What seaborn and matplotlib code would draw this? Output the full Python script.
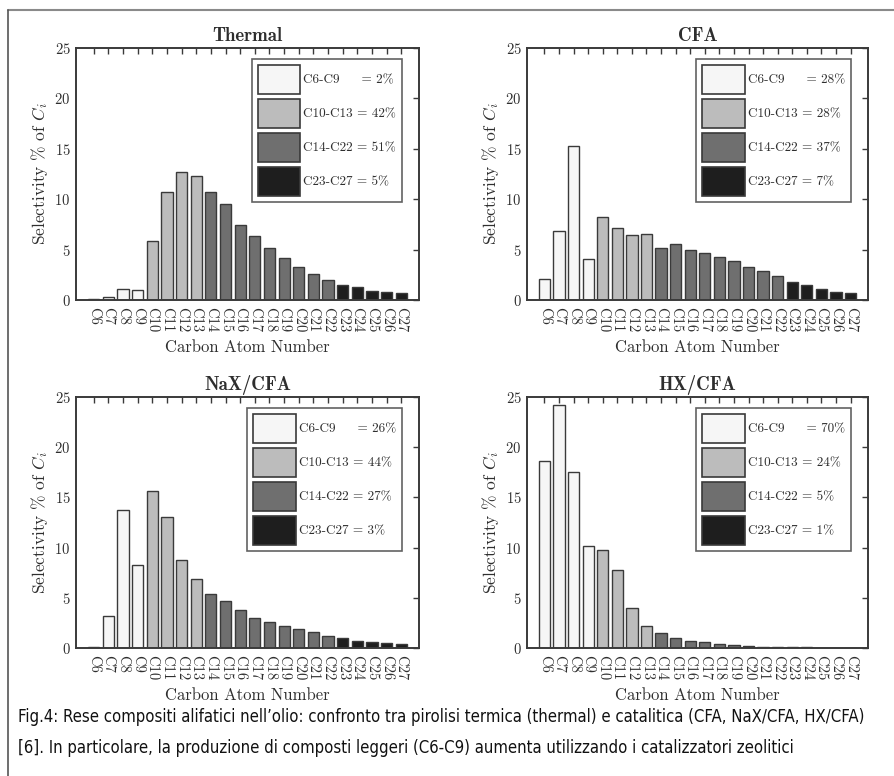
import matplotlib
matplotlib.use("Agg")
import matplotlib.pyplot as plt
import seaborn as sns
import pandas as pd
from matplotlib.patches import Patch
from matplotlib.lines import Line2D

# ---------------- data ----------------
carbons = [f"C{i}" for i in range(6, 28)]
groups = ["C6-C9", "C10-C13", "C14-C22", "C23-C27"]
group_of = (["C6-C9"] * 4) + (["C10-C13"] * 4) + (["C14-C22"] * 9) + (["C23-C27"] * 5)

thermal = [0.12, 0.3, 1.1, 1.0, 5.86, 10.76, 12.65, 12.3, 10.76, 9.5, 7.48, 6.3,
           5.13, 4.17, 3.28, 2.58, 1.95, 1.52, 1.26, 0.86, 0.76, 0.66]
cfa = [2.05, 6.89, 15.23, 4.07, 8.21, 7.19, 6.49, 6.59, 5.13, 5.56, 4.97, 4.64,
       4.24, 3.87, 3.28, 2.91, 2.42, 1.82, 1.52, 1.06, 0.83, 0.66]
nax = [0.08, 3.19, 13.78, 8.3, 15.6, 13.05, 8.8, 6.87, 5.41, 4.65, 3.78, 3.02,
       2.62, 2.22, 1.86, 1.56, 1.2, 1.0, 0.7, 0.6, 0.5, 0.4]
hx = [18.63, 24.24, 17.56, 10.16, 9.79, 7.8, 3.98, 2.16, 1.53, 1.0, 0.7, 0.6,
      0.43, 0.33, 0.23, 0.13, 0.1, 0.07, 0.05, 0.03, 0.03, 0.03]

titles = ["Thermal", "CFA", "NaX/CFA", "HX/CFA"]
series = [thermal, cfa, nax, hx]
percents = [["2%", "42%", "51%", "5%"],
            ["28%", "28%", "37%", "7%"],
            ["26%", "44%", "27%", "3%"],
            ["70%", "24%", "5%", "1%"]]

caption1 = ("Fig.4: Rese compositi alifatici nell\u2019olio: confronto tra pirolisi termica "
            "(thermal) e catalitica (CFA, NaX/CFA, HX/CFA)")
caption2 = ("[6]. In particolare, la produzione di composti leggeri (C6-C9) aumenta "
            "utilizzando i catalizzatori zeolitici")

# ---------------- style ----------------
sns.set_style("white")
plt.rcParams["font.family"] = ["cmr10", "DejaVu Serif"]
plt.rcParams["mathtext.fontset"] = "cm"
plt.rcParams["axes.formatter.use_mathtext"] = True

colors = ["#f6f6f6", "#bcbcbc", "#6f6f6f", "#1e1e1e"]
palette = dict(zip(groups, colors))
edge = "#3a3a3a"
txt = "#2e2e2e"

W, H = 895, 776
fig = plt.figure(figsize=(W / 100, H / 100), dpi=100)

boxes = [(76, 48, 419, 300), (527, 48, 868, 300),
         (76, 397, 419, 648), (527, 397, 868, 648)]

LFS = 9.5
for (l, t, r, b), title, vals, pcts in zip(boxes, titles, series, percents):
    ax = fig.add_axes([l / W, 1 - b / H, (r - l) / W, (b - t) / H])
    df = pd.DataFrame({"carbon": carbons, "value": vals, "group": group_of})
    sns.barplot(data=df, x="carbon", y="value", hue="group", hue_order=groups,
                palette=palette, dodge=False, width=0.77, saturation=1,
                edgecolor=edge, linewidth=1.0, errorbar=None, legend=False, ax=ax)
    ax.set_xlim(-1.2, 22.2)
    ax.set_ylim(0, 25)
    ax.set_yticks([0, 5, 10, 15, 20, 25])
    ax.tick_params(axis="both", direction="in", top=True, right=True,
                   length=4, width=1.0, color=edge, labelcolor=txt)
    ax.tick_params(axis="y", labelsize=10.5, pad=4)
    ax.tick_params(axis="x", labelsize=10.5, pad=5, labelrotation=270)
    for sp in ax.spines.values():
        sp.set_visible(True)
        sp.set_color(edge)
        sp.set_linewidth(1.4)
    ax.set_title(title, family=["cmb10", "DejaVu Serif"], fontsize=13.5,
                 color=txt, pad=5)
    ax.set_xlabel("Carbon Atom Number", fontsize=12, color=txt, labelpad=5)
    ax.set_ylabel("Selectivity % of $C_i$", fontsize=12.5, color=txt, labelpad=3)

    labels = []
    for g, p in zip(groups, pcts):
        if g == "C6-C9":
            labels.append(f"{g}     = {p}")
        else:
            labels.append(f"{g} = {p}")
    handles = [Patch(facecolor=palette[g], edgecolor=edge, linewidth=1.2) for g in groups]
    leg = ax.legend(handles, labels, loc="upper right", bbox_to_anchor=(0.95, 0.956),
                    borderaxespad=0, fontsize=LFS, handlelength=3.25, handleheight=2.95,
                    handletextpad=0.2, labelspacing=0.42, borderpad=0.45,
                    frameon=True, fancybox=False, labelcolor=txt)
    leg.get_frame().set_edgecolor(edge)
    leg.get_frame().set_linewidth(1.2)

# frame lines of the figure
fig.add_artist(Line2D([8 / W, 894 / W], [1 - 10 / H, 1 - 10 / H],
                      transform=fig.transFigure, color="#8a8a8a", lw=1.5))
fig.add_artist(Line2D([8 / W, 8 / W], [1 - 10 / H, 0],
                      transform=fig.transFigure, color="#555555", lw=1.2))

# caption, fitted to the reference width
cap_kw = dict(family=["DejaVu Sans"], fontstretch="condensed", color="#111111",
              va="center", ha="left")
t1 = fig.text(18 / W, 1 - 717 / H, caption1, fontsize=15, **cap_kw)
t2 = fig.text(18 / W, 1 - 748 / H, caption2, fontsize=15, **cap_kw)
renderer = fig.canvas.get_renderer()
w1 = t1.get_window_extent(renderer).width
fs = 15 * 850 / w1
t1.set_fontsize(fs)
t2.set_fontsize(fs)

fig.savefig("out.png", dpi=100)
